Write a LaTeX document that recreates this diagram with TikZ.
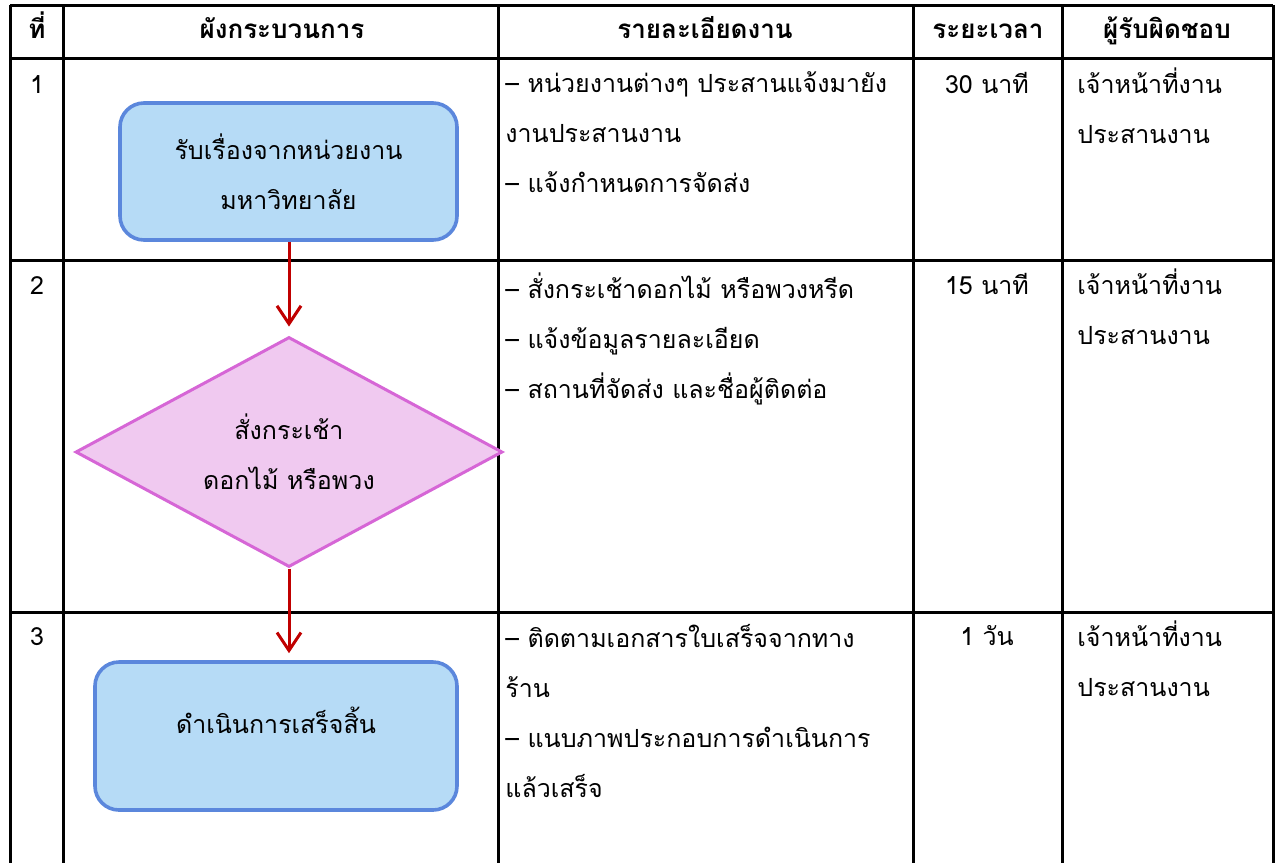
\documentclass[tikz,border=0pt]{standalone}
\usepackage{fontspec}
\setmainfont[Script=Thai]{Loma}
\usetikzlibrary{shapes.geometric,arrows.meta}
\definecolor{boxfill}{HTML}{B6DBF6}
\definecolor{boxline}{HTML}{5B87DC}
\definecolor{diafill}{HTML}{F0C9F0}
\definecolor{dialine}{HTML}{D666D6}
\definecolor{flowred}{HTML}{C00000}

\begin{document}
\begin{tikzpicture}[x=0.5pt,y=-0.5pt,>={Straight Barb[length=9pt,width=12pt]},
  font=\fontsize{12.5}{25}\selectfont,
  grid/.style={line width=1.5pt},
  cell/.style={anchor=north west,align=left,inner sep=0pt,execute at begin node=\strut},
  mid/.style={anchor=base,inner sep=0pt},
  head/.style={anchor=base,inner sep=0pt,font=\fontsize{13}{25}\selectfont\bfseries},
  procbox/.style={draw=boxline,fill=boxfill,line width=1.8pt,rounded corners=12pt,align=center},
  decide/.style={diamond,aspect=1.86,draw=dialine,fill=diafill,line width=1.5pt,inner sep=0pt,align=center},
  flow/.style={->,flowred,line width=1.5pt}]
 \useasboundingbox (0,0) rectangle (1277,863);
 \draw[grid] (10,5) -- (1273,5);
 \draw[grid] (10,58) -- (1273,58);
 \draw[grid] (10,260) -- (1273,260);
 \draw[grid] (10,612) -- (1273,612);
 \draw[grid] (10,5) -- (10,863);
 \draw[grid] (63,5) -- (63,863);
 \draw[grid] (498,5) -- (498,863);
 \draw[grid] (913,5) -- (913,863);
 \draw[grid] (1062,5) -- (1062,863);
 \draw[grid] (1273,5) -- (1273,863);
 \node[head] (h1) at (37,38) {ที่};
 \node[head] (h2) at (282,38) {ผังกระบวนการ};
 \node[head] (h3) at (705,38) {รายละเอียดงาน};
 \node[head] (h4) at (988,38) {ระยะเวลา};
 \node[head] (h5) at (1167,38) {ผู้รับผิดชอบ};
 \node[mid] (n1) at (37,93) {1};
 \node[mid] (n2) at (37,294) {2};
 \node[mid] (n3) at (37,645) {3};
 \node[procbox,minimum width=168.5pt,minimum height=68.5pt] (recv) at (288.5,171.5)
   {รับเรื่องจากหน่วยงาน\\มหาวิทยาลัย};
 \node[decide,minimum width=213.5pt,minimum height=115pt] (order) at (289,452)
   {สั่งกระเช้า\\ดอกไม้ หรือพวง};
 \node[procbox,minimum width=181pt,minimum height=74pt,text depth=16pt] (done) at (276,736)
   {ดำเนินการเสร็จสิ้น};
 \draw[flow,shorten >=4.5pt] (recv.south -| order.north) -- (order.north);
 \draw[flow,shorten >=3.5pt] (order.south) -- (order.south |- done.north);
 \node[cell] (d1) at (505,71) {– หน่วยงานต่างๆ ประสานแจ้งมายัง\\งานประสานงาน\\– แจ้งกำหนดการจัดส่ง};
 \node[cell] (d2) at (505,272) {– สั่งกระเช้าดอกไม้ หรือพวงหรีด\\– แจ้งข้อมูลรายละเอียด\\– สถานที่จัดส่ง และชื่อผู้ติดต่อ};
 \node[cell] (d3) at (505,624) {– ติดตามเอกสารใบเสร็จจากทาง\\ร้าน\\– แนบภาพประกอบการดำเนินการ\\แล้วเสร็จ};
 \node[mid] (t1) at (987,93) {30 นาที};
 \node[mid] (t2) at (987,294) {15 นาที};
 \node[mid] (t3) at (987,645) {1 วัน};
 \node[cell] (r1) at (1077,67) {เจ้าหน้าที่งาน\\ประสานงาน};
 \node[cell] (r2) at (1077,268) {เจ้าหน้าที่งาน\\ประสานงาน};
 \node[cell] (r3) at (1077,620) {เจ้าหน้าที่งาน\\ประสานงาน};
\end{tikzpicture}
\end{document}
